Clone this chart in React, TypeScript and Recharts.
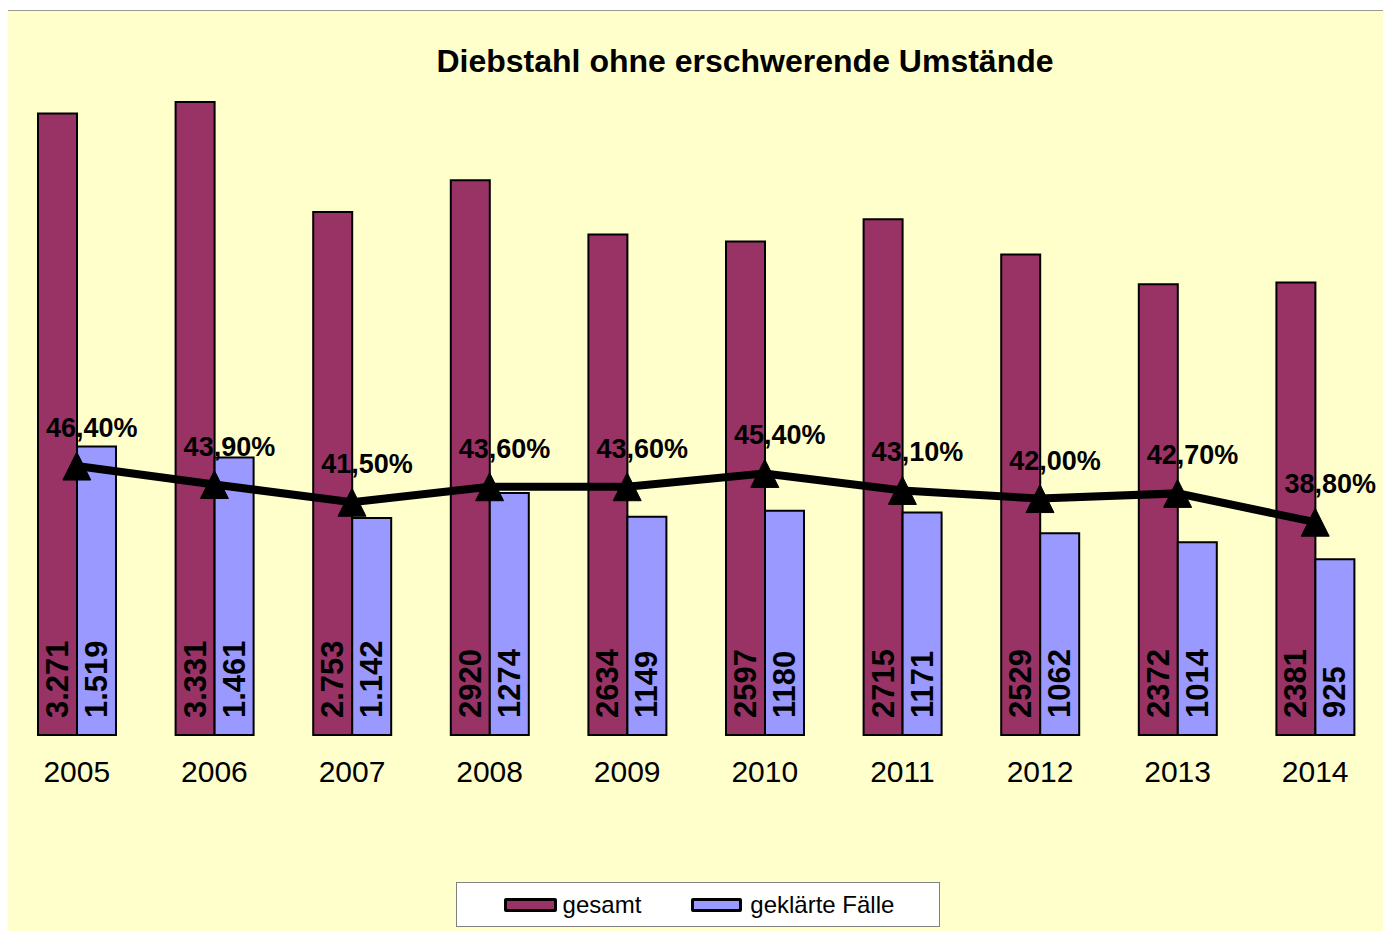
import React from 'react';
import { ComposedChart, Bar, Line, XAxis, YAxis, LabelList, Legend } from 'recharts';

const years = ['2005', '2006', '2007', '2008', '2009', '2010', '2011', '2012', '2013', '2014'];
const gesamt = [3271, 3331, 2753, 2920, 2634, 2597, 2715, 2529, 2372, 2381];
const geklaert = [1519, 1461, 1142, 1274, 1149, 1180, 1171, 1062, 1014, 925];
const gesamtLabels = ['3.271', '3.331', '2.753', '2920', '2634', '2597', '2715', '2529', '2372', '2381'];
const geklaertLabels = ['1.519', '1.461', '1.142', '1274', '1149', '1180', '1171', '1062', '1014', '925'];
const quote = [46.4, 43.9, 41.5, 43.6, 43.6, 45.4, 43.1, 42.0, 42.7, 38.8];
const seriesNames = ['gesamt', 'geklärte Fälle'];

const data = years.map((y, i) => ({
  year: y,
  gesamt: gesamt[i],
  geklaert: geklaert[i],
  gesamtLabel: gesamtLabels[i],
  geklaertLabel: geklaertLabels[i],
  quote: quote[i],
}));

const FONT = "Arial, 'Liberation Sans', Helvetica, sans-serif";
const C_GES = '#993366';
const C_GEK = '#9999FF';

const BarValueLabel = (props: any) => {
  const { x, y, width, height, value } = props;
  const cx = Number(x) + Number(width) / 2;
  const by = Number(y) + Number(height) - 17;
  return (
    <text
      x={cx}
      y={by}
      transform={`rotate(-90 ${cx} ${by})`}
      textAnchor="start"
      dominantBaseline="central"
      fontSize={31}
      fontWeight="bold"
      fontFamily={FONT}
      fill="#000"
    >
      {value}
    </text>
  );
};

const PctLabel = (props: any) => {
  const { x, y, value } = props;
  const txt = Number(value).toFixed(2).replace('.', ',') + '%';
  return (
    <text
      x={Number(x) + 15}
      y={Number(y) - 29}
      textAnchor="middle"
      fontSize={27}
      fontWeight="bold"
      fontFamily={FONT}
      fill="#000"
    >
      {txt}
    </text>
  );
};

const TriangleDot = (props: any) => {
  const { cx, cy, index } = props;
  if (cx == null || cy == null) return null;
  return (
    <path
      key={`tri-${index}`}
      d={`M${cx},${cy - 14} L${cx + 14},${cy + 14} L${cx - 14},${cy + 14} Z`}
      fill="#000"
      stroke="#000"
      strokeWidth={1}
    />
  );
};

const YearTick = (props: any) => {
  const { x, y, payload } = props;
  return (
    <text x={x} y={y} dy={47} textAnchor="middle" fontSize={30} fontFamily={FONT} fill="#000">
      {payload.value}
    </text>
  );
};

const LegendContent = (props: any) => {
  const items = (props.payload || [])
    .filter((p: any) => seriesNames.indexOf(p.value) >= 0)
    .sort((a: any, b: any) => seriesNames.indexOf(a.value) - seriesNames.indexOf(b.value));
  return (
    <div
      style={{
        boxSizing: 'border-box',
        width: 484,
        height: 45,
        background: '#FFFFFF',
        border: '1px solid #808080',
        display: 'flex',
        justifyContent: 'center',
        alignItems: 'center',
        paddingLeft: 2,
        fontFamily: FONT,
        fontSize: 24,
        lineHeight: '24px',
        color: '#000',
      }}
    >
      {items.map((it: any, i: number) => (
        <div key={i} style={{ display: 'flex', alignItems: 'center', marginLeft: i > 0 ? 50 : 0 }}>
          <div
            style={{
              boxSizing: 'border-box',
              width: i === 0 ? 53 : 51,
              height: 14,
              background: it.color,
              border: '3px solid #000',
              borderRadius: 2,
              marginRight: i === 0 ? 6 : 8,
            }}
          />
          <span>{it.value}</span>
        </div>
      ))}
    </div>
  );
};

export default function App() {
  return (
    <div
      style={{
        position: 'relative',
        marginLeft: -2,
        marginTop: 2,
        width: 1380,
        height: 932,
        boxSizing: 'border-box',
        background: '#FFFFCC',
        borderTop: '1px solid #9a9a90',
        borderRight: '1px solid #707060',
        borderBottom: '1px solid #707060',
        borderLeft: '2px solid #707060',
        fontFamily: FONT,
      }}
    >
      <div
        style={{
          position: 'absolute',
          left: 337,
          top: 34,
          width: 800,
          textAlign: 'center',
          fontSize: 32,
          lineHeight: '32px',
          fontWeight: 'bold',
          color: '#000',
          whiteSpace: 'nowrap',
        }}
      >
        Diebstahl ohne erschwerende Umstände
      </div>
      <div style={{ position: 'absolute', left: 0, top: 0 }}>
        <ComposedChart
          width={1377}
          height={915}
          data={data}
          margin={{ top: 59, right: 1, left: 0, bottom: 151 }}
          barGap={0}
        >
          <XAxis
            dataKey="year"
            axisLine={false}
            tickLine={false}
            tickSize={0}
            tickMargin={0}
            height={40}
            interval={0}
            tick={<YearTick />}
          />
          <YAxis yAxisId="left" hide domain={[0, 3500]} />
          <YAxis yAxisId="right" hide orientation="right" domain={[10, 100]} />
          <Legend
            verticalAlign="middle"
            align="center"
            layout="horizontal"
            content={<LegendContent />}
            wrapperStyle={{ position: 'absolute', left: 448, top: 871, width: 484, height: 45 }}
          />
          <Bar
            yAxisId="left"
            dataKey="gesamt"
            name={seriesNames[0]}
            fill={C_GES}
            stroke="#000"
            strokeWidth={2}
            barSize={39}
            isAnimationActive={false}
          >
            <LabelList dataKey="gesamtLabel" content={<BarValueLabel />} />
          </Bar>
          <Bar
            yAxisId="left"
            dataKey="geklaert"
            name={seriesNames[1]}
            fill={C_GEK}
            stroke="#000"
            strokeWidth={2}
            barSize={39}
            isAnimationActive={false}
          >
            <LabelList dataKey="geklaertLabel" content={<BarValueLabel />} />
          </Bar>
          <Line
            yAxisId="right"
            dataKey="quote"
            name="Quote"
            legendType="none"
            stroke="#000"
            strokeWidth={8}
            dot={<TriangleDot />}
            activeDot={false}
            isAnimationActive={false}
          >
            <LabelList dataKey="quote" content={<PctLabel />} />
          </Line>
        </ComposedChart>
      </div>
    </div>
  );
}
